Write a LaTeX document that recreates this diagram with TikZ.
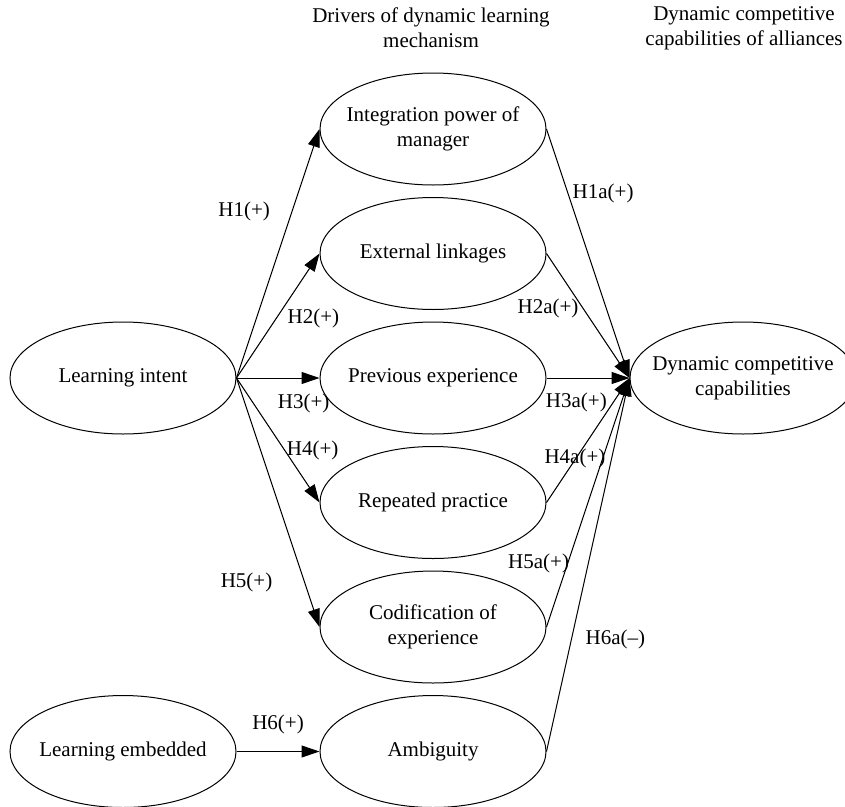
\documentclass[tikz,border=0pt]{standalone}
\usepackage{fontspec}
\setmainfont{Liberation Serif}
\usepackage{tikz}
\usetikzlibrary{positioning, calc, shapes.geometric}
\usetikzlibrary{arrows.meta}
\tikzstyle{ovalbox}=[ellipse,draw=black,line width=1pt,minimum width=226pt,
minimum height=112pt,inner xsep=-12pt,inner ysep=0pt,align=center]
\tikzstyle{textbox}=[rectangle,inner sep=0pt,draw=none,align=center]
\tikzstyle{edgepath} = [-{Triangle[length=18pt,width=12pt]},line width=1pt]

\begin{document}
\begin{tikzpicture}[x=1pt,y=1pt,font=\fontsize{21}{25}\selectfont,
    node distance=11.5pt and 83pt]
    \useasboundingbox (0,0) rectangle (845,-806);

    \node[ovalbox] (intent) at (123,-378) {Learning intent};
    \node[ovalbox, right=of intent] (prev) {Previous experience};
    \node[ovalbox, above=of prev] (ext) {External linkages};
    \node[ovalbox, above=of ext] (integ) {Integration power of\\manager};
    \node[ovalbox, below=of prev] (rep) {Repeated practice};
    \node[ovalbox, below=of rep] (cod) {Codification of\\experience};
    \node[ovalbox, below=of cod] (amb) {Ambiguity};
    \node[ovalbox, left=of amb] (embed) {Learning embedded};
    \node[ovalbox, right=of prev] (dcc) {Dynamic competitive\\capabilities};

    \node[textbox] (drivers) at (431,-28) {Drivers of dynamic learning\\mechanism};
    \node[textbox] (alliances) at (744,-28) {Dynamic competitive\\capabilities of alliances};

    \path[edgepath]
        (intent.east) edge node[pos=0.67, xshift=-48pt] {H1(+)} (integ.west)
        (intent.east) edge node[pos=0.48, xshift=37pt] {H2(+)} (ext.west)
        (intent.east) edge node[pos=0.81, yshift=-25pt] {H3(+)} (prev.west)
        (intent.east) edge node[pos=0.58, xshift=28pt] {H4(+)} (rep.west)
        (intent.east) edge node[pos=0.82, xshift=-58pt] {H5(+)} (cod.west)
        (embed) edge node[pos=0.5, yshift=27pt] {H6(+)} (amb);

    \path[edgepath]
        (integ.east) edge node[pos=0.26, xshift=35pt] {H1a(+)} (dcc.west)
        (ext.east) edge node[pos=0.44, xshift=-35pt] {H2a(+)} (dcc.west)
        (prev.east) edge node[pos=0.36, yshift=-24pt] {H3a(+)} (dcc.west)
        (rep.east) edge node[pos=0.355, xshift=-1pt] {H4a(+)} (dcc.west)
        (cod.east) edge node[pos=0.254, xshift=-29pt] {H5a(+)} (dcc.west)
        (amb.east) edge node[pos=0.30, xshift=44pt] {H6a(--)} (dcc.west);
\end{tikzpicture}
\end{document}
